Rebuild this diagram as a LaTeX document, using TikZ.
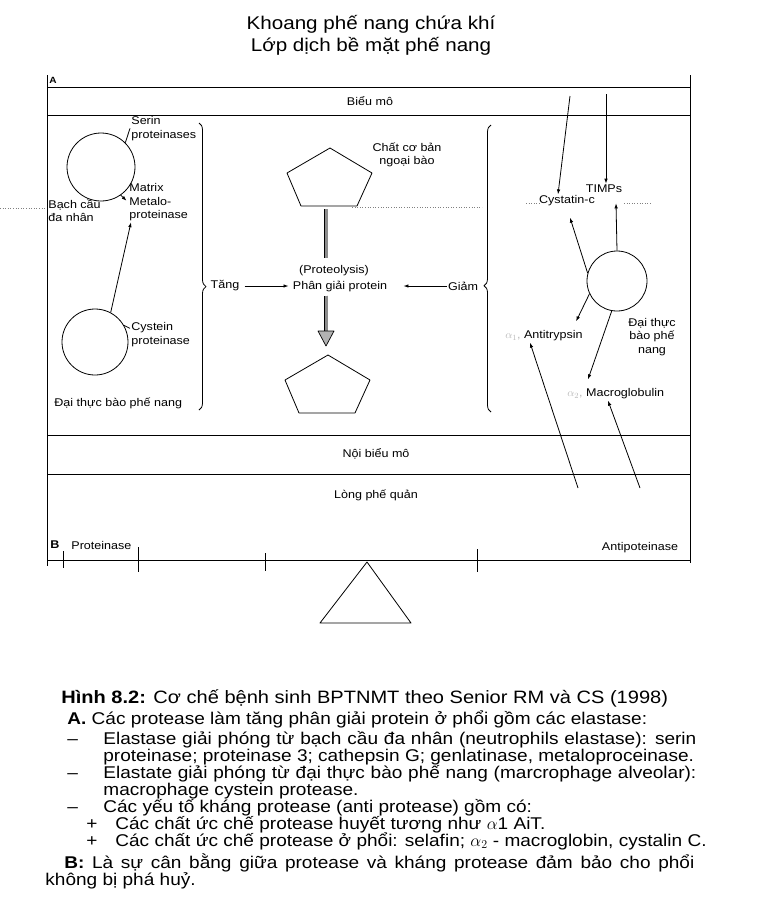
\documentclass[tikz,border=0pt]{standalone}
\usepackage{fontspec}
\setmainfont[FakeStretch=1.12]{Liberation Sans}
\usetikzlibrary{arrows.meta,decorations.pathreplacing}
\newcommand{\faintmark}[1]{{\color{gray!55}#1}}

\begin{document}
\begin{tikzpicture}[x=1pt,y=-1pt,line join=round,line width=0.8pt,
  lbl/.style={font=\fontsize{11.2}{13.5}\selectfont,inner sep=1pt},
  cell/.style={draw,circle,inner sep=0pt},
  pto/.style={-{Latex[length=5pt,width=3.5pt]}},
  bar/.style={double=black!45,double distance=3pt,line width=0.7pt},
  captxt/.style={font=\fontsize{17}{17}\selectfont,anchor=base west,inner sep=0pt}]
  \useasboundingbox (0,0) rectangle (765,914);
  \node[font=\fontsize{18.4}{20}\selectfont] (title1) at (371,24) {Khoang phế nang chứa khí};
  \node[font=\fontsize{18.4}{20}\selectfont] (title2) at (371,46) {Lớp dịch bề mặt phế nang};
  \draw[line width=1pt] (47,75) -- (47,566) (690,75) -- (690,563);
  \foreach \y in {87,115,435,474,560}
    \draw[line width=1pt] (47,\y) -- (690,\y);
  \node[font=\bfseries\fontsize{9}{10}\selectfont] (la) at (53,80) {A};
  \node[lbl] (epi) at (370,101) {Biểu mô};
  \node[lbl] (endo) at (376,454) {Nội biểu mô};
  \node[lbl] (lumen) at (376,495) {Lòng phế quản};
  \draw[dotted,line width=0.6pt,gray] (0,208) -- (45,208) (352,207) -- (482,207)
    (526,203) -- (540,203) (624,203) -- (652,203);
  \node[cell,minimum size=68pt] (pmn) at (101,167) {};
  \node[cell,minimum size=66pt] (mac) at (95,342) {};
  \node[lbl,align=left,anchor=north west] (serin) at (130,115) {Serin\\proteinases};
  \node[lbl,align=left,anchor=north west] (mmp) at (128,182) {Matrix\\Metalo-\\proteinase};
  \node[lbl,align=left,anchor=north west] (pmnlbl) at (47,198) {Bạch cầu\\đa nhân};
  \node[lbl,align=left,anchor=north west] (cys) at (130,321) {Cystein\\proteinase};
  \node[lbl,anchor=west] (maclbl) at (53,403) {Đại thực bào phế nang};
  \draw (pmn.45) -- (serin.west);
  \draw[pto,shorten >=2pt] (pmn.-55) -- (mmp.west);
  \draw[pto] (mac.62) -- ([xshift=3pt]mmp.south west);
  \draw (mac.30) -- ([yshift=6pt]cys.west);
  \draw[decorate,decoration={brace,amplitude=7pt,aspect=0.57}] (199,123) -- (199,410);
  \draw[decorate,decoration={brace,amplitude=7pt,aspect=0.44}] (491,412) -- (491,125);
  \coordinate (ptop) at (330,179);
  \coordinate (pbot) at (328,386);
  \foreach \c in {ptop,pbot}
    \draw[shift={(\c)}] (0,-31) -- (-43,-6) -- (-29,27) -- (27,27) -- (42,-6) -- cycle;
  \node[lbl,align=center] (ecm) at (407,155) {Chất cơ bản\\ngoại bào};
  \node[lbl] (proteo) at (334,271) {(Proteolysis)};
  \node[lbl] (phan) at (340,286) {Phân giải protein};
  \node[lbl] (tang) at (225,286) {Tăng};
  \node[lbl] (giam) at (463,286) {Giảm};
  \draw[pto,shorten <=4pt,shorten >=3pt] (tang) -- (phan);
  \draw[pto,shorten >=15pt] (giam) -- (phan);
  \draw[bar,shorten >=6pt] ([xshift=-4pt,yshift=-30pt]ptop) -- ([xshift=-4pt]ptop |- proteo.north);
  \coordinate (hd) at (326,331);
  \draw[bar,shorten <=3pt] (hd |- phan.south) -- (hd);
  \draw[fill=gray!60,line width=0.7pt] (hd) ++(-8,0) -- ++(16,0) -- ++(-8,15) -- cycle;
  \node[cell,minimum size=60pt] (amr) at (617,281) {};
  \node[lbl] (cysc) at (567,201) {Cystatin-c};
  \node[lbl] (timp) at (604,189) {TIMPs};
  \node[lbl,anchor=west] (antit) at (504,336) {\faintmark{$\alpha_1$,} Antitrypsin};
  \node[lbl,anchor=west] (macro) at (566,394) {\faintmark{$\alpha_2$,} Macroglobulin};
  \node[lbl,align=center] (amlbl) at (652,337) {Đại thực\\bào phế\\nang};
  \coordinate (in1) at (570,96);
  \coordinate (in2) at (606,94);
  \coordinate (out1) at (578,488);
  \coordinate (out2) at (640,488);
  \draw[pto] (in1) -- ([xshift=-9pt]cysc.north);
  \draw[pto] (in2) -- (in2 |- timp.north);
  \draw[pto] (amr.165) -- ([xshift=3pt,yshift=-10pt]cysc.south);
  \draw[pto] (amr.north) -- ([xshift=12pt,yshift=-9pt]timp.south);
  \draw[pto] (amr.205) -- ([xshift=-8pt,yshift=8pt]antit.north east);
  \draw[pto] (amr.-100) -- ([xshift=22pt,yshift=8pt]macro.north west);
  \draw[pto] (out1) -- ([xshift=26pt]antit.south west);
  \draw[pto] (out2) -- ([xshift=42pt]macro.south west);
  \node[font=\bfseries\fontsize{11.2}{13}\selectfont] (lb) at (55,545) {B};
  \node[lbl,anchor=west] (prot) at (70,545) {Proteinase};
  \node[lbl] (antip) at (640,548) {Antipoteinase};
  \foreach \x/\a/\b in {63/551/568,138/547/572,265/553/571,477/549/572}
    \draw (\x,\a) -- (\x,\b);
  \draw (367,562) -- (411,623) -- (320,623) -- cycle;
  \node[captxt,font=\fontsize{17.9}{18}\selectfont] (c1) at (61,703) {\textbf{Hình 8.2:} Cơ chế bệnh sinh BPTNMT theo Senior RM và CS (1998)};
  \node[captxt] (c2) at (67,724) {\textbf{A.} Các protease làm tăng phân giải protein ở phổi gồm các elastase:};
  \node[captxt] (d1) at (67,744) {–};
  \node[captxt] (c3) at (103,744) {\makebox[593pt][s]{Elastase giải phóng từ bạch cầu đa nhân (neutrophils elastase): serin}};
  \node[captxt] (c4) at (103,761) {proteinase; proteinase 3; cathepsin G; genlatinase, metaloproceinase.};
  \node[captxt] (d2) at (67,778) {–};
  \node[captxt] (c5) at (103,778) {\makebox[593pt][s]{Elastate giải phóng từ đại thực bào phế nang (marcrophage alveolar):}};
  \node[captxt] (c6) at (103,795) {macrophage cystein protease.};
  \node[captxt] (d3) at (67,812) {–};
  \node[captxt] (c7) at (103,812) {Các yếu tố kháng protease (anti protease) gồm có:};
  \node[captxt] (p1) at (86,829) {+};
  \node[captxt] (c8) at (115,829) {Các chất ức chế protease huyết tương như $\alpha$1 AiT.};
  \node[captxt] (p2) at (86,846) {+};
  \node[captxt] (c9) at (115,846) {Các chất ức chế protease ở phổi: selafin; $\alpha_2$ - macroglobin, cystalin C.};
  \node[captxt] (c10) at (64,868) {\makebox[630pt][s]{\textbf{B:} Là sự cân bằng giữa protease và kháng protease đảm bảo cho phổi}};
  \node[captxt] (c11) at (45,885) {không bị phá huỷ.};
\end{tikzpicture}
\end{document}
